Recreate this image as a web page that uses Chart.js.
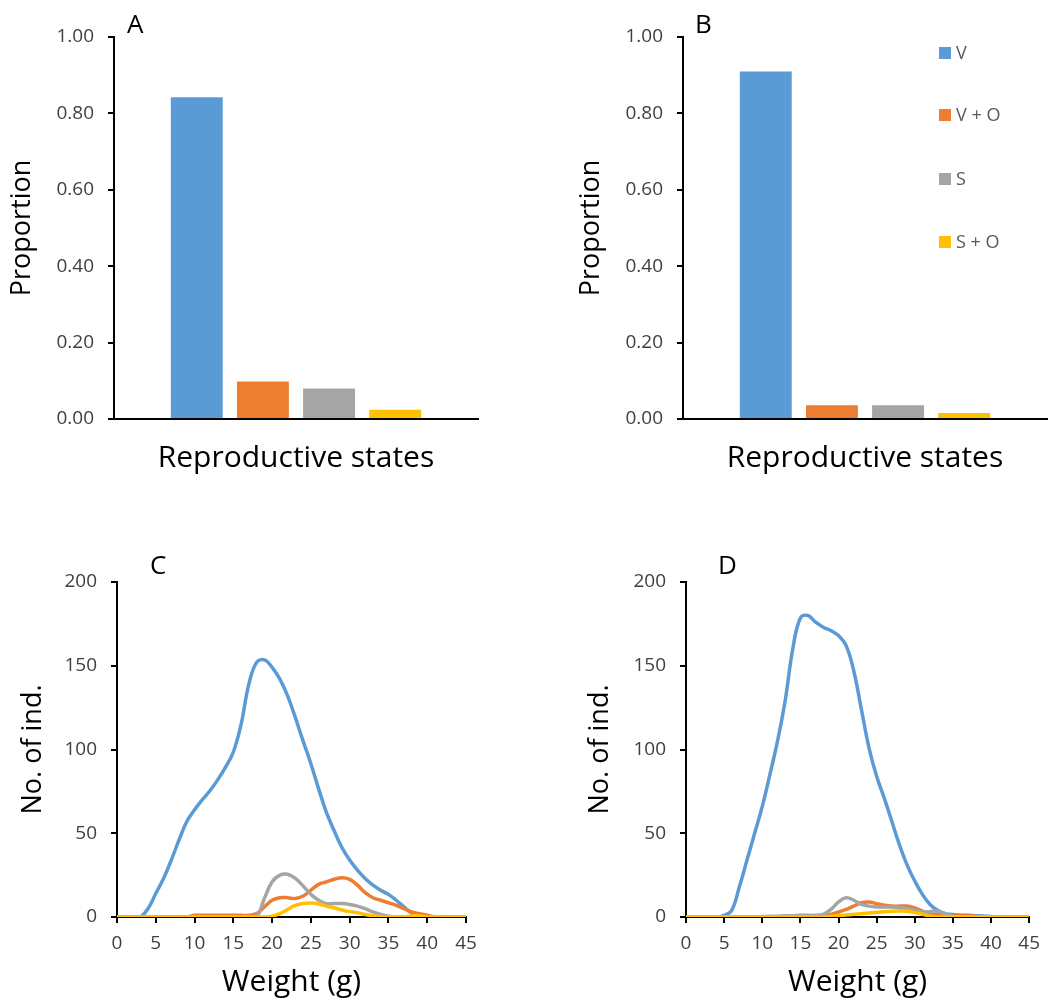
<!DOCTYPE html>
<html>
<head>
<meta charset="utf-8">
<script src="https://cdn.jsdelivr.net/npm/chart.js@4.4.1/dist/chart.umd.min.js"></script>
<style>
  body { margin: 0; background: #fff; width: 1049px; height: 998px; position: relative; overflow: hidden; font-family: "Open Sans", sans-serif; }
  .box { position: absolute; }
  .panel { position: absolute; font-size: 26px; color: #000; line-height: 1; }
  .leg { position: absolute; font-size: 18px; color: #595959; line-height: 1; }
  .leg span { display: inline-block; width: 12px; height: 12px; margin-right: 5px; vertical-align: 0px; }
</style>
</head>
<body>
<div class="box" style="left:0;top:0;width:524px;height:490px"><canvas id="chartA"></canvas></div>
<div class="box" style="left:569px;top:0;width:480px;height:490px"><canvas id="chartB"></canvas></div>
<div class="box" style="left:0;top:530px;width:524px;height:468px"><canvas id="chartC"></canvas></div>
<div class="box" style="left:569px;top:530px;width:480px;height:468px"><canvas id="chartD"></canvas></div>

<div class="panel" style="left:127px;top:10px">A</div>
<div class="panel" style="left:695px;top:10px">B</div>
<div class="panel" style="left:150px;top:551px">C</div>
<div class="panel" style="left:718px;top:551px">D</div>
<div id="legend"></div>

<script>
// reproductive states and colours
const states = ["V", "V + O", "S", "S + O"];
const colors = ["#5B9BD5", "#ED7D31", "#A5A5A5", "#FFC000"];

// proportions (top panels)
const propA = [0.842, 0.098, 0.080, 0.024];
const propB = [0.910, 0.036, 0.036, 0.016];

// weight classes (g) for bottom panels
const weights = [0,1,2,3,4,5,6,7,8,9,10,11,12,13,14,15,16,17,18,19,20,21,22,23,24,25,26,27,28,29,30,31,32,33,34,35,36,37,38,39,40,41,42,43,44,45];

// panel C
const cV   = [0,0,0,0,5,14,23,34,46,57,64,70,75.5,82,89.5,98.5,115,139,152,153.5,149,142,132,119,105,91.5,76.5,62.5,51.5,41.5,34,28,23,19,16,13.5,10,6,2.5,1,0,0,0,0,0,0];
const cVO  = [0,0,0,0,0,0,0,0,0,0,1,1,1,1,1,1,1,1,2,6,10,11.5,11.5,11,12.5,16,19.5,21,22.5,23.5,22.5,19,14.5,11.5,10,8.5,7,5,3,2,1,0,0,0,0,0];
const cS   = [0,0,0,0,0,0,0,0,0,0,0,0,0,0,0,0,0,0,0,11,21,25,25.5,23,18.5,13.5,10,8,8,8,7.5,6.5,5,3,1.5,0.5,0,0,0,0,0,0,0,0,0,0];
const cSO  = [0,0,0,0,0,0,0,0,0,0,0,0,0,0,0,0,0,0,0,0,0.5,2,4.5,7,8,8.3,7.8,6.5,5.5,4.2,3.2,2.5,1.5,0.8,0.2,0,0,0,0.7,0.7,0,0,0,0,0,0];

// panel D
const dV   = [0,0,0,0,0,1,4,18,34,50,66,85,105,129,160,178.5,180,176,173,171,168,162,147,124,101,84,71,57,43,31,21.5,13.5,7.5,4,2,1.5,1,1,0.8,0.6,0.3,0,0,0,0,0];
const dVO  = [0,0,0,0,0,0,0,0,0,0,0,0,0,0,0,0,0,0,0.5,1.5,3,4.5,6.5,8.5,9,8,7,6.5,6.5,6.5,5.5,3.5,2,1.5,1.2,1,1,0.8,0.3,0,0,0,0,0,0,0];
const dS   = [0,0,0,0,0,0,0,0,0,0,0.3,0.5,0.5,0.7,0.8,1,1,1,1.5,4.5,9,11.5,10,7.5,6.5,6,6,6,5.5,5,4,3,3.2,3.5,2,0.5,0,0,0,0,0,0,0,0,0,0];
const dSO  = [0,0,0,0,0,0,0,0,0,0,0,0,0,0,0,0,0,0,0,0.3,0.8,1.2,1.6,2,2.4,2.8,3.1,3.4,3.6,3.5,2.6,1.6,0.5,0,0,0,0,0,0,0,0,0,0,0,0,0];

const tickFont = { family: "Open Sans", size: 19 };
const yTitleFont = { family: "Open Sans", size: 27 };
const xTitleFont = { family: "Open Sans", size: 30, lineHeight: 1 };
const tickColor = "#404040";

// legend for panel B
const legendTop = [43, 105, 169, 232];
document.getElementById("legend").innerHTML = states.map((s, i) =>
  `<div class="leg" style="left:939px;top:${legendTop[i]}px"><span style="background:${colors[i]}"></span>${s}</div>`
).join("");

function barChart(id, values, yw, padRight) {
  new Chart(document.getElementById(id), {
    type: "bar",
    data: {
      labels: [""],
      datasets: states.map((s, i) => ({
        label: s,
        data: [values[i]],
        backgroundColor: colors[i],
        categoryPercentage: 0.727,
        barPercentage: 0.785
      }))
    },
    options: {
      animation: false,
      responsive: true,
      maintainAspectRatio: false,
      layout: { padding: { top: 37, right: padRight, left: 0, bottom: 0 } },
      plugins: { legend: { display: false }, tooltip: { enabled: false } },
      scales: {
        x: {
          grid: { display: false, drawTicks: false },
          border: { display: true, color: "#000", width: 2 },
          ticks: { display: false },
          title: { display: true, text: "Reproductive states", font: xTitleFont, color: "#000", padding: { top: 0, bottom: 17 } },
          afterFit: s => { s.height = 71; }
        },
        y: {
          min: 0, max: 1,
          grid: { drawOnChartArea: false, drawTicks: true, tickLength: 6, color: "#000", lineWidth: 2 },
          border: { display: true, color: "#000", width: 2 },
          ticks: { stepSize: 0.2, font: tickFont, color: tickColor, padding: 14, callback: v => v.toFixed(2) },
          title: { display: true, text: "Proportion", font: yTitleFont, color: "#000", padding: { top: 6, bottom: 0 } },
          afterFit: s => { s.width = yw; }
        }
      }
    }
  });
}

function lineChart(id, series, yw, padRight, titlePad) {
  new Chart(document.getElementById(id), {
    type: "line",
    data: {
      labels: weights,
      datasets: series.map((vals, i) => ({
        label: states[i],
        data: vals.map((v, j) => ({ x: weights[j], y: v })),
        borderColor: colors[i],
        backgroundColor: colors[i],
        borderWidth: 3.5,
        pointRadius: 0,
        tension: 0.4,
        order: series.length - i
      }))
    },
    options: {
      animation: false,
      responsive: true,
      maintainAspectRatio: false,
      layout: { padding: { top: 52, right: padRight, left: 0, bottom: 0 } },
      plugins: { legend: { display: false }, tooltip: { enabled: false } },
      scales: {
        x: {
          type: "linear", min: 0, max: 45,
          grid: { drawOnChartArea: false, drawTicks: true, tickLength: 6, color: "#000", lineWidth: 2 },
          border: { display: true, color: "#000", width: 2 },
          ticks: { stepSize: 5, font: tickFont, color: tickColor, padding: 9, maxRotation: 0 },
          title: { display: true, text: "Weight (g)", font: xTitleFont, color: "#000", padding: { top: 0, bottom: 1 } },
          afterFit: s => { s.height = 81; }
        },
        y: {
          min: 0, max: 200,
          grid: { drawOnChartArea: false, drawTicks: true, tickLength: 6, color: "#000", lineWidth: 2 },
          border: { display: true, color: "#000", width: 2 },
          ticks: { stepSize: 50, font: tickFont, color: tickColor, padding: 14 },
          title: { display: true, text: "No. of ind.", font: yTitleFont, color: "#000", padding: { top: titlePad, bottom: 0 } },
          afterFit: s => { s.width = yw; }
        }
      }
    }
  });
}

barChart("chartA", propA, 114, 46);
barChart("chartB", propB, 114, 2);
lineChart("chartC", [cV, cVO, cS, cSO], 117, 58, 17);
lineChart("chartD", [dV, dVO, dS, dSO], 117, 15, 15);
</script>
</body>
</html>
